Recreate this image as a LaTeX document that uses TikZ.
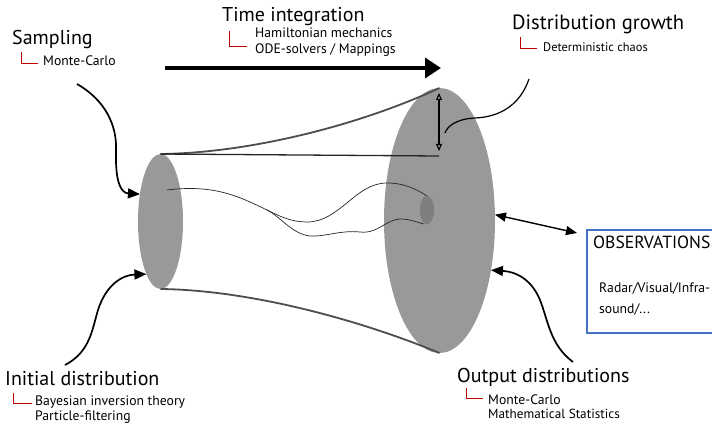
\documentclass[tikz,border=0pt]{standalone}
\usepackage{fontspec}
\setmainfont{PT Sans}
\usetikzlibrary{shapes.geometric,arrows.meta,calc}

\definecolor{blobgray}{HTML}{999999}
\definecolor{coregray}{HTML}{7F7F7F}
\definecolor{tubeedge}{HTML}{4D4D4D}
\definecolor{leadred}{HTML}{C00000}
\definecolor{obsblue}{HTML}{4472C4}

\begin{document}
\begin{tikzpicture}[x=1pt,y=-1pt,
  head/.style={anchor=base west, inner sep=0, font=\fontsize{20}{24}\selectfont},
  sub/.style={anchor=base west, inner sep=0, font=\fontsize{13.7}{16}\selectfont},
  lead/.style={draw=leadred, line width=0.9pt},
  pointer/.style={line width=1.7pt, -{Triangle[length=12pt,width=10pt]}},
  blob/.style={ellipse, fill=blobgray, inner sep=0, outer sep=0},
  tube/.style={draw=tubeedge, line width=1.8pt},
  orbit/.style={draw=black!85, line width=0.7pt},
  spread/.style={line width=1.1pt, {Triangle[open,length=7pt,width=6pt]}-{Triangle[open,length=7pt,width=6pt]}},
  obsbox/.style={draw=obsblue, line width=1.8pt, inner sep=0, outer sep=0, anchor=north west,
                 minimum width=150pt, minimum height=103pt}
]
\clip (0,0) rectangle (712,425);
\fill[white] (0,0) rectangle (712,425);

% initial and propagated distributions
\node[blob, minimum width=45pt, minimum height=135pt] (src) at (160.5,221.5) {};
\node[blob, minimum width=111pt, minimum height=265pt] (dst) at (439.5,220.5) {};

% tube bounding the propagated cloud
\coordinate (reach) at (439,156);
\draw[tube] (src.north) .. controls (250,153) and (360,125) .. (dst.north);
\draw[tube] (src.south) .. controls (250,290) and (360,320) .. (dst.south);
\draw[draw=black!85, line width=1.3pt] (src.north) -- (reach);

% two neighbouring trajectories that diverge
\coordinate (orbitstart) at (167,190);
\coordinate (fork) at (267,210);
\draw[orbit] (orbitstart) .. controls (215,184) and (240,197) .. (fork)
  .. controls (281,217) and (292,222) .. (307,222)
  .. controls (340,222) and (355,183) .. (387,183)
  .. controls (405,183) and (418,190) .. (427,196);
\draw[orbit] (fork)
  .. controls (281,217) and (292,234) .. (310,236)
  .. controls (325,237) and (340,230) .. (360,232)
  .. controls (378,234) and (385,220) .. (400,219)
  .. controls (410,219) and (416,222) .. (424,224);
\node[ellipse, fill=coregray, inner sep=0, minimum width=14pt, minimum height=29pt] (core) at (427,210) {};

% growth of the spread
\coordinate (spreadtop) at (439,93);
\coordinate (spreadbot) at (439,151);
\draw[spread] (spreadtop) -- (spreadbot);

% time axis
\coordinate (tstart) at (165,68);
\coordinate (tend) at (441,68);
\draw[line width=3.6pt, -{Triangle[length=16pt,width=20pt]}] (tstart) -- (tend);

% labels
\node[head] (samp) at (12,45) {Sampling};
\node[sub] (sampmc) at (43,66) {Monte-Carlo};
\draw[lead] (21,52) |- (38,63);

\node[head] (timeint) at (222,22) {Time integration};
\node[sub] (ham) at (255,38) {Hamiltonian mechanics};
\node[sub] (ode) at (255,54) {ODE-solvers / Mappings};
\draw[lead] (229,31) |- (247,46);

\node[head, font=\fontsize{20.6}{25}\selectfont] (growth) at (512,30) {Distribution growth};
\node[sub, font=\fontsize{12.4}{15}\selectfont] (chaos) at (543,52) {Deterministic chaos};
\draw[lead] (520,37) |- (537,48);

\node[head] (init) at (5,385) {Initial distribution};
\node[sub] (bayes) at (35,405) {Bayesian inversion theory};
\node[sub] (pf) at (35,420) {Particle-filtering};
\draw[lead] (13,393) |- (32,403);

\node[head] (out) at (457,382) {Output distributions};
\node[sub] (outmc) at (488,404) {Monte-Carlo};
\node[sub, font=\fontsize{13.2}{16}\selectfont] (stats) at (488,418) {Mathematical Statistics};
\draw[lead] (466,388) |- (483,398);

% observations
\node[obsbox] (obs) at (587,230) {};
\node[head, font=\fontsize{17.6}{21}\selectfont] (obstitle) at (593,248) {OBSERVATIONS};
\node[sub] (radar) at (599,292) {Radar/Visual/Infra-};
\node[sub] (sound) at (599,313) {sound/...};

% pointers
\coordinate (sampfrom) at (77,84);
\draw[pointer] (sampfrom) .. controls (105,100) and (117,125) .. (116,150)
  .. controls (115,185) and (122,193) .. (src.127);
\coordinate (initfrom) at (65,365);
\draw[pointer] (initfrom) .. controls (90,352) and (92,330) .. (98,310)
  .. controls (106,285) and (122,275) .. (src.-105);
\coordinate (outfrom) at (573,362);
\draw[pointer] (outfrom) .. controls (550,345) and (548,320) .. (540,300)
  .. controls (533,283) and (520,272) .. (dst.-44);
\coordinate (growthfrom) at (529,79);
\draw[line width=1.2pt] (growthfrom) .. controls (520,105) and (500,117) .. (475,118)
  .. controls (455,119) and (447,127) .. (445,133);
\coordinate (obsport) at (577,233);
\draw[line width=1.4pt, {Triangle[length=11pt,width=9pt]}-{Triangle[length=11pt,width=9pt]}] (dst.6) -- (obsport);
\end{tikzpicture}
\end{document}
